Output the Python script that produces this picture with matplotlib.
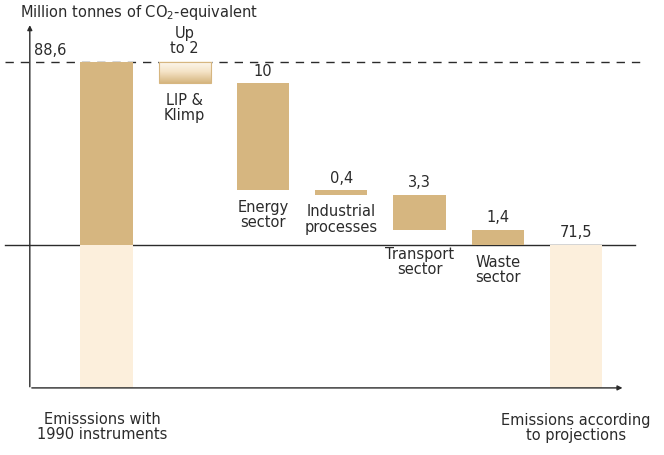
"""Waterfall of CO2-equivalent reductions, 1990 instruments vs projections"""

import numpy as np
import matplotlib
matplotlib.use('Agg')
import matplotlib.pyplot as plt
from matplotlib.colors import LinearSegmentedColormap

# Data
start_value = 88.6
end_value = 71.5
step_names = ['LIP &\nKlimp', 'Energy\nsector', 'Industrial\nprocesses', 'Transport\nsector', 'Waste\nsector']
step_values = [2.0, 10.0, 0.4, 3.3, 1.4]
step_labels = ['Up\nto 2', '10', '0,4', '3,3', '1,4']
start_label = '88,6'
end_label = '71,5'
start_name = 'Emisssions with\n1990 instruments'
end_name = 'Emissions according\nto projections'

tan = '#d6b680'
light = '#fcefdc'
ink = '#2b2b2b'
fs = 10.5

fig = plt.figure(figsize=(6.64, 4.55), dpi=100)
ax = fig.add_axes([0, 0, 1, 1])
ax.set_axis_off()
# pixel-aligned data limits: bar centres at 0..6
ax.set_xlim(-1.361, 7.125)
ax.set_ylim(51.87, 94.39)

base = 58.14   # level of the x axis
width = 0.67
x_axis_end = 6.63
y_axis_x = -0.98

# Axes with arrows
ax.annotate('', xy=(y_axis_x, 92.3), xytext=(y_axis_x, base - 0.15),
            arrowprops=dict(arrowstyle='-|>', color=ink, lw=1.0, mutation_scale=7))
ax.annotate('', xy=(x_axis_end, base), xytext=(y_axis_x - 0.01, base),
            arrowprops=dict(arrowstyle='-|>', color=ink, lw=1.0, mutation_scale=7))

# Reference levels
ax.plot([-1.30, 6.82], [start_value, start_value], color=ink, lw=1.0,
        dashes=(6, 5), zorder=1)
ax.plot([-1.30, 6.75], [end_value, end_value], color=ink, lw=1.0, zorder=1)

# Start bar: light part below end level, tan part above
ax.bar(0, end_value - base, width, bottom=base, color=light, zorder=2)
ax.bar(0, start_value - end_value, width, bottom=end_value, color=tan, zorder=2)
ax.text(-0.72, start_value + 0.4, start_label, ha='center', va='bottom',
        fontsize=fs, color=ink)

# Steps
level = start_value
grad = LinearSegmentedColormap.from_list('g', ['#fdf8f0', '#f4e2c4', tan])
for i, (name, val, lab) in enumerate(zip(step_names, step_values, step_labels)):
    x = i + 1
    top, bot = level, level - val
    if i == 0:
        img = np.linspace(0, 1, 64).reshape(-1, 1)
        ax.imshow(img, cmap=grad, aspect='auto', zorder=2,
                  extent=(x - width / 2, x + width / 2, bot, top), origin='upper')
        ax.bar(x, val, width, bottom=bot, fill=False, edgecolor=tan, lw=0.8, zorder=3)
        ax.text(x, top + 0.6, lab, ha='center', va='bottom', fontsize=fs,
                color=ink, linespacing=1.0)
    else:
        ax.bar(x, val, width, bottom=bot, color=tan, zorder=2)
        ax.text(x, top + 0.45, lab, ha='center', va='bottom', fontsize=fs, color=ink)
    name_y = bot - 0.9
    if bot - 2.8 < end_value:
        name_y = min(name_y, end_value - 0.15)
    ax.text(x, name_y, name, ha='center', va='top', fontsize=fs, color=ink,
            linespacing=1.02)
    level = bot

# End bar
ax.bar(6, end_value - base, width, bottom=base, color=light, zorder=2)
ax.text(6, end_value + 0.45, end_label, ha='center', va='bottom', fontsize=fs, color=ink)

# Axis texts
fig.text(20 / 664, 1 - 12 / 455, 'Million tonnes of CO$_2$-equivalent',
         ha='left', va='center', fontsize=fs, color=ink)
fig.text(102 / 664, 1 - 427 / 455, start_name, ha='center', va='center',
         fontsize=fs, color=ink, linespacing=1.05)
fig.text(576 / 664, 1 - 428 / 455, end_name, ha='center', va='center',
         fontsize=fs, color=ink, linespacing=1.05)

fig.savefig('out.png', dpi=100)
